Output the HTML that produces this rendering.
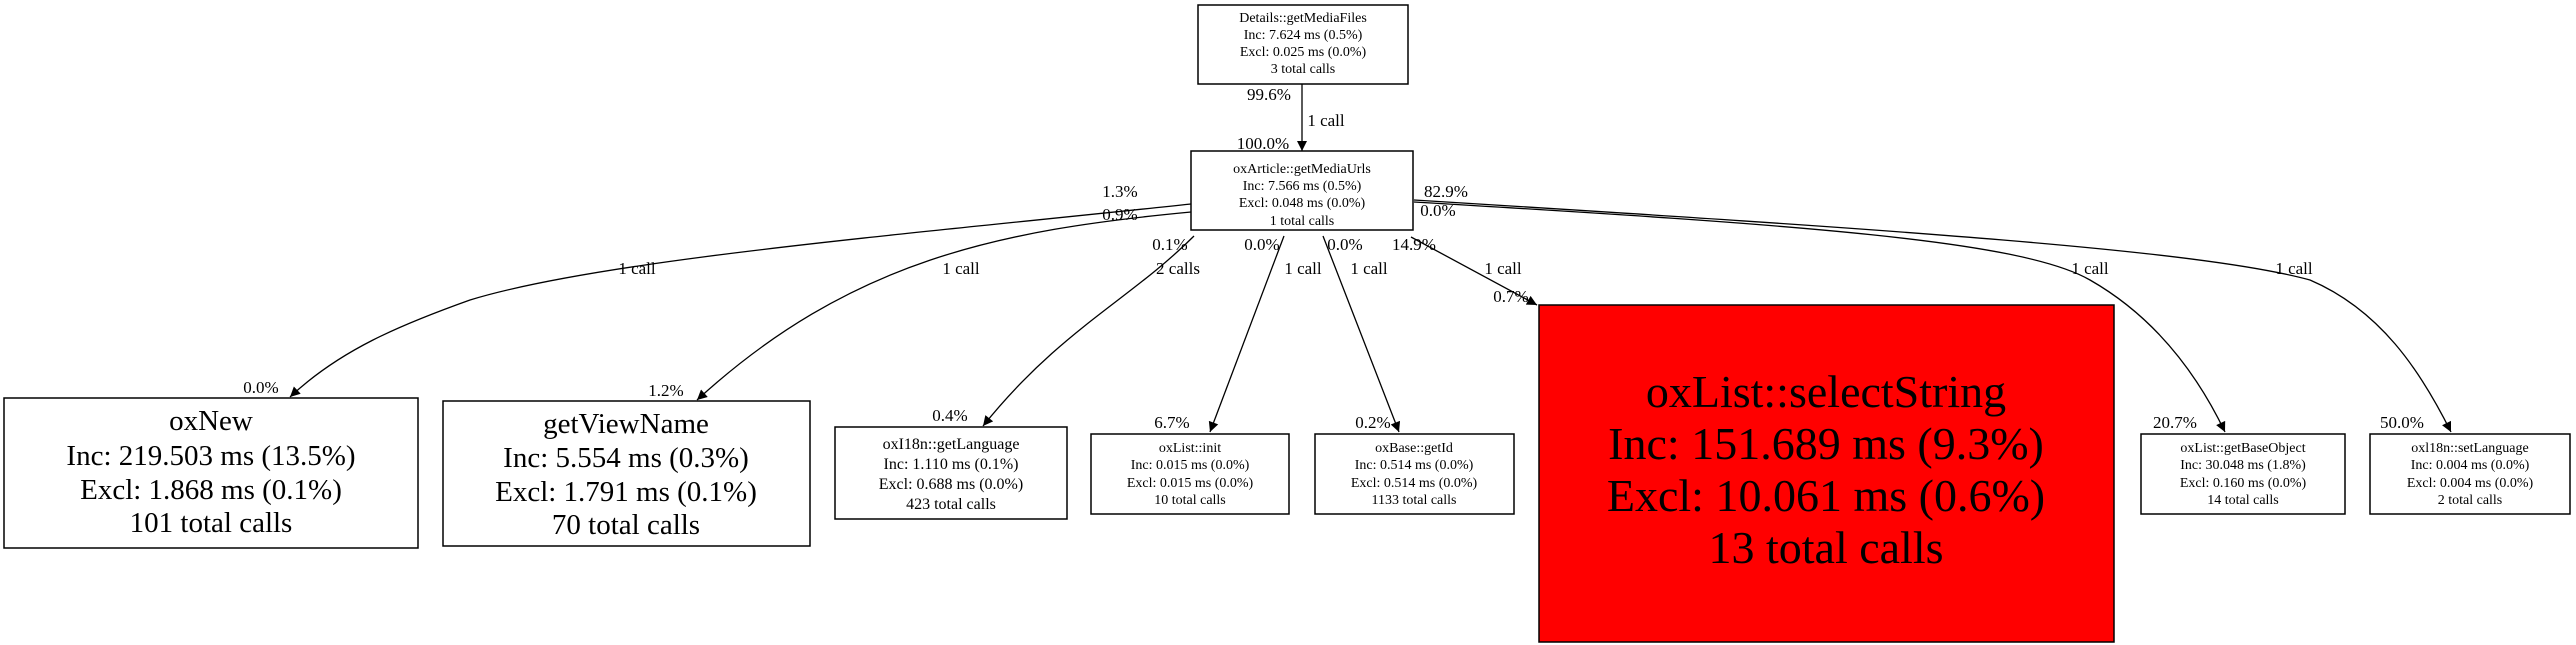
<!DOCTYPE html>
<html><head><meta charset="utf-8"><style>
html,body{margin:0;padding:0;background:#fff;}
svg{display:block;font-family:"Liberation Serif",serif;}
</style></head><body>
<svg width="2576" height="645" viewBox="0 0 2576 645" xmlns="http://www.w3.org/2000/svg">
<defs><marker id="a" viewBox="0 0 10 10" refX="10" refY="5" markerWidth="14" markerHeight="10" markerUnits="userSpaceOnUse" orient="auto"><path d="M0,0 L10,5 L0,10 z" fill="#000"/></marker></defs>
<g fill="none" stroke="#000" stroke-width="1.3" marker-end="url(#a)">
<path d="M1302,84 L1302,151"/>
<path d="M1191,204 C900,235 600,260 470,300 C400,325 340,350 290,397"/>
<path d="M1191,212 C1000,230 850,260 697,400"/>
<path d="M1194,236 C1130,300 1060,330 983,426"/>
<path d="M1284,236 L1210,432"/>
<path d="M1323,236 L1399,432"/>
<path d="M1411,237 L1537,305"/>
<path d="M1414,202 C1800,225 2020,240 2090,280 C2160,320 2200,380 2225,432"/>
<path d="M1414,200 C1900,230 2200,250 2310,280 C2380,310 2420,370 2451,432"/>
</g>
<g stroke="#000" stroke-width="1.5" fill="#fff">
<rect x="1198" y="5" width="210" height="79"/>
<rect x="1191" y="151" width="222" height="79"/>
<rect x="4" y="398" width="414" height="150"/>
<rect x="443" y="401" width="367" height="145"/>
<rect x="835" y="427" width="232" height="92"/>
<rect x="1091" y="434" width="198" height="80"/>
<rect x="1315" y="434" width="199" height="80"/>
<rect x="1539" y="305" width="575" height="337" fill="#ff0000"/>
<rect x="2141" y="434" width="204" height="80"/>
<rect x="2370" y="434" width="200" height="80"/>
</g>
<g text-anchor="middle" fill="#000">
<g font-size="14"><text x="1303" y="22">Details::getMediaFiles</text><text x="1303" y="39">Inc: 7.624 ms (0.5%)</text><text x="1303" y="56">Excl: 0.025 ms (0.0%)</text><text x="1303" y="73">3 total calls</text></g>
<g font-size="14"><text x="1302" y="173">oxArticle::getMediaUrls</text><text x="1302" y="190">Inc: 7.566 ms (0.5%)</text><text x="1302" y="207">Excl: 0.048 ms (0.0%)</text><text x="1302" y="225">1 total calls</text></g>
<g font-size="29"><text x="211" y="430">oxNew</text><text x="211" y="465">Inc: 219.503 ms (13.5%)</text><text x="211" y="499">Excl: 1.868 ms (0.1%)</text><text x="211" y="532">101 total calls</text></g>
<g font-size="29"><text x="626" y="433">getViewName</text><text x="626" y="467">Inc: 5.554 ms (0.3%)</text><text x="626" y="501">Excl: 1.791 ms (0.1%)</text><text x="626" y="534">70 total calls</text></g>
<g font-size="16"><text x="951" y="449">oxI18n::getLanguage</text><text x="951" y="469">Inc: 1.110 ms (0.1%)</text><text x="951" y="489">Excl: 0.688 ms (0.0%)</text><text x="951" y="509">423 total calls</text></g>
<g font-size="14"><text x="1190" y="452">oxList::init</text><text x="1190" y="469">Inc: 0.015 ms (0.0%)</text><text x="1190" y="487">Excl: 0.015 ms (0.0%)</text><text x="1190" y="504">10 total calls</text></g>
<g font-size="14"><text x="1414" y="452">oxBase::getId</text><text x="1414" y="469">Inc: 0.514 ms (0.0%)</text><text x="1414" y="487">Excl: 0.514 ms (0.0%)</text><text x="1414" y="504">1133 total calls</text></g>
<g font-size="46"><text x="1826" y="407">oxList::selectString</text><text x="1826" y="459">Inc: 151.689 ms (9.3%)</text><text x="1826" y="511">Excl: 10.061 ms (0.6%)</text><text x="1826" y="563">13 total calls</text></g>
<g font-size="14"><text x="2243" y="452">oxList::getBaseObject</text><text x="2243" y="469">Inc: 30.048 ms (1.8%)</text><text x="2243" y="487">Excl: 0.160 ms (0.0%)</text><text x="2243" y="504">14 total calls</text></g>
<g font-size="14"><text x="2470" y="452">oxl18n::setLanguage</text><text x="2470" y="469">Inc: 0.004 ms (0.0%)</text><text x="2470" y="487">Excl: 0.004 ms (0.0%)</text><text x="2470" y="504">2 total calls</text></g>
<g font-size="17">
<text x="1269" y="100">99.6%</text><text x="1326" y="126">1 call</text><text x="1263" y="149">100.0%</text>
<text x="1120" y="197">1.3%</text><text x="1120" y="220">0.9%</text><text x="1446" y="197">82.9%</text><text x="1438" y="216">0.0%</text>
<text x="1170" y="250">0.1%</text><text x="1262" y="250">0.0%</text><text x="1345" y="250">0.0%</text><text x="1414" y="250">14.9%</text>
<text x="637" y="274">1 call</text><text x="961" y="274">1 call</text><text x="1178" y="274">2 calls</text><text x="1303" y="274">1 call</text><text x="1369" y="274">1 call</text><text x="1503" y="274">1 call</text><text x="2090" y="274">1 call</text><text x="2294" y="274">1 call</text>
<text x="261" y="393">0.0%</text><text x="666" y="396">1.2%</text><text x="950" y="421">0.4%</text><text x="1172" y="428">6.7%</text><text x="1373" y="428">0.2%</text><text x="1511" y="302">0.7%</text><text x="2175" y="428">20.7%</text><text x="2402" y="428">50.0%</text>
</g>
</g>
</svg>
</body></html>
